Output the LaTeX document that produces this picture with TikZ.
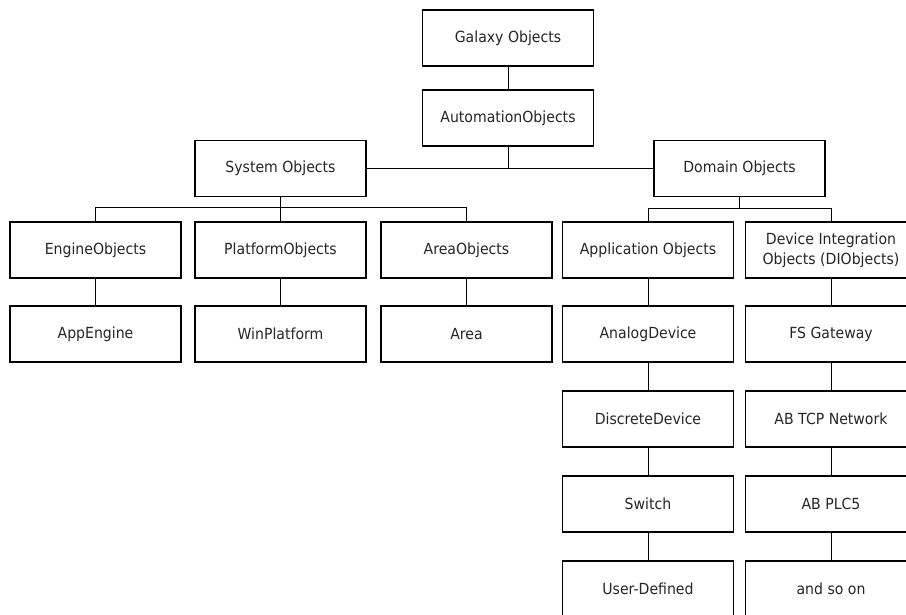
\documentclass[tikz,border=0pt]{standalone}
\usepackage{fontspec}
\setmainfont{DejaVu Sans}[FakeStretch=0.92]
\begin{document}
\begin{tikzpicture}[x=1pt,y=-1pt,
  objbox/.style={draw=black, line width=1.4pt, rectangle, minimum width=171pt,
    minimum height=56pt, inner sep=0pt, align=center,
    font=\fontsize{15.3}{20}\selectfont, text=black!85},
  link/.style={draw=black, line width=0.8pt}]
\clip (0,0) rectangle (906,614);
\fill[white] (0,0) rectangle (906,614);

% top of the hierarchy
\node[objbox] (galaxy) at (508,38)  {Galaxy Objects};
\node[objbox] (auto)   at (508,118) {AutomationObjects};
\node[objbox] (sys)    at (280.5,168.5) {System Objects};
\node[objbox] (dom)    at (739.5,168.5) {Domain Objects};

% second level
\node[objbox] (eng)  at (95.5,250)  {EngineObjects};
\node[objbox] (plat) at (280.5,250) {PlatformObjects};
\node[objbox] (area) at (466.5,250) {AreaObjects};
\node[objbox] (app)  at (648,250)   {Application Objects};
\node[objbox] (dio)  at (831,250)   {Device Integration\\Objects (DIObjects)};

% templates
\node[objbox] (appeng)  at (95.5,334)  {AppEngine};
\node[objbox] (winplat) at (280.5,334) {WinPlatform};
\node[objbox] (areat)   at (466.5,334) {Area};
\node[objbox] (analog)  at (648,334)   {AnalogDevice};
\node[objbox] (discr)   at (648,419)   {DiscreteDevice};
\node[objbox] (switch)  at (648,504)   {Switch};
\node[objbox] (userdef) at (648,589)   {User-Defined};
\node[objbox] (fsgw)    at (831,334)   {FS Gateway};
\node[objbox] (abtcp)   at (831,419)   {AB TCP Network};
\node[objbox] (abplc)   at (831,504)   {AB PLC5};
\node[objbox] (soon)    at (831,589)   {and so on};

% connectors
\draw[link] (galaxy.south) -- (auto.north);
\draw[link] (sys.east) -- (dom.west);
\draw[link] (auto.south) -- (auto.south |- sys.east);

\draw[link] (eng.north) -- ++(0,-14) -| (area.north);
\draw[link] (sys.south) -- (plat.north);
\draw[link] (app.north) -- ++(0,-13) -| (dio.north);
\draw[link] (dom.south) -- ++(0,12);

\draw[link] (eng.south)  -- (appeng.north);
\draw[link] (plat.south) -- (winplat.north);
\draw[link] (area.south) -- (areat.north);
\draw[link] (app.south) -- (analog.north);
\draw[link] (analog.south) -- (discr.north);
\draw[link] (discr.south) -- (switch.north);
\draw[link] (switch.south) -- (userdef.north);
\draw[link] (dio.south) -- (fsgw.north);
\draw[link] (fsgw.south) -- (abtcp.north);
\draw[link] (abtcp.south) -- (abplc.north);
\draw[link] (abplc.south) -- (soon.north);
\end{tikzpicture}
\end{document}
